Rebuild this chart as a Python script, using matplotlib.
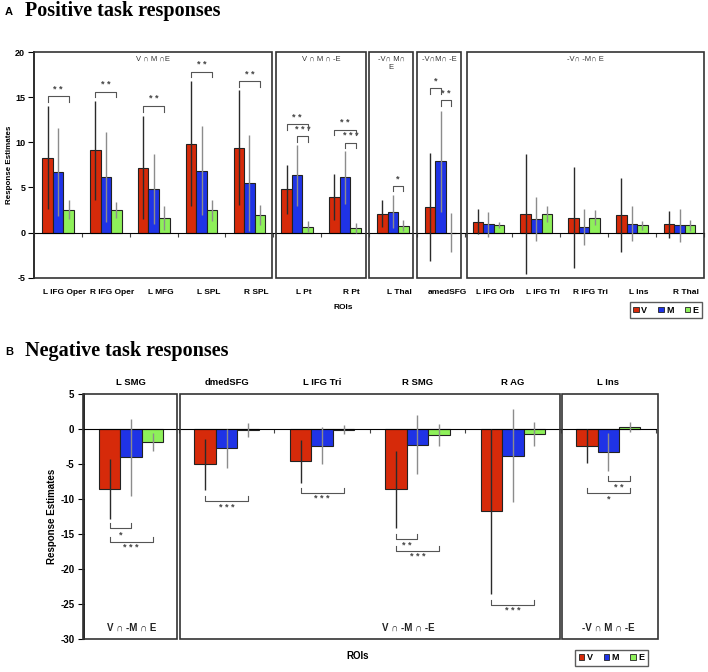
import numpy as np
import matplotlib.pyplot as plt
from matplotlib.patches import Rectangle, Patch

plt.rcParams['font.family'] = ['Liberation Sans', 'DejaVu Sans']
plt.rcParams['axes.unicode_minus'] = False

# ---- panel A: positive task responses ----
roi_a = ['L IFG Oper', 'R IFG Oper', 'L MFG', 'L SPL', 'R SPL', 'L Pt', 'R Pt',
         'L Thal', 'amedSFG', 'L IFG Orb', 'L IFG Tri', 'R IFG Tri', 'L Ins', 'R Thal']
v_a = [8.3, 9.1, 7.2, 9.85, 9.4, 4.8, 3.9, 2.1, 2.8, 1.2, 2.05, 1.65, 1.9, 0.92]
m_a = [6.7, 6.15, 4.8, 6.85, 5.5, 6.35, 6.1, 2.3, 7.9, 0.9, 1.5, 0.6, 1.0, 0.8]
e_a = [2.55, 2.5, 1.6, 2.45, 1.95, 0.65, 0.55, 0.78, 0.0, 0.85, 2.05, 1.65, 0.8, 0.8]
v_err_a = [5.7, 5.5, 5.7, 6.9, 6.4, 2.7, 2.55, 1.5, 6.0, 1.4, 6.6, 5.6, 4.1, 1.5]
m_err_a = [4.9, 5.0, 3.9, 4.95, 5.35, 3.4, 2.9, 1.85, 5.6, 1.35, 2.4, 2.0, 1.95, 1.8]
e_err_a = [1.1, 0.85, 1.3, 1.2, 1.1, 0.6, 0.55, 0.6, 2.2, 0.35, 0.9, 0.8, 0.5, 0.6]
groups_a = ['V \u2229 M \u2229E', 'V \u2229 M \u2229 -E', '-V\u2229 M\u2229\nE',
            '-V\u2229M\u2229 -E', '-V\u2229 -M\u2229 E']
# (roi, from, to, level, stars)
sig_a = [(0, 'V', 'E', 15.1, '**'), (1, 'V', 'E', 15.6, '**'), (2, 'V', 'E', 14.0, '**'),
         (3, 'V', 'E', 17.8, '**'), (4, 'V', 'E', 16.75, '**'),
         (5, 'V', 'E', 12.0, '**'), (5, 'M', 'E', 10.66, '***'),
         (6, 'V', 'E', 11.4, '**'), (6, 'M', 'E', 9.97, '***'),
         (7, 'M', 'E', 5.16, '*'), (8, 'V', 'M', 16.0, '*'), (8, 'M', 'E', 14.65, '**')]

# ---- panel B: negative task responses ----
roi_b = ['L SMG', 'dmedSFG', 'L IFG Tri', 'R SMG', 'R AG', 'L Ins']
v_b = [-8.55, -5.1, -4.65, -8.65, -11.8, -2.5]
m_b = [-4.1, -2.8, -2.4, -2.3, -3.85, -3.3]
e_b = [-1.85, -0.2, -0.15, -0.9, -0.75, 0.25]
v_err_b = [4.3, 3.7, 3.1, 5.45, 11.8, 2.4]
m_err_b = [5.5, 2.8, 2.6, 4.2, 6.65, 2.75]
e_err_b = [1.3, 1.0, 0.65, 1.6, 1.75, 0.75]
groups_b = ['V \u2229 -M \u2229 E', 'V \u2229 -M \u2229 -E', '-V \u2229 M \u2229 -E']
sig_b = [(0, 'V', 'M', -14.2, '*'), (0, 'V', 'E', -16.1, '***'), (1, 'V', 'E', -10.3, '***'),
         (2, 'V', 'E', -9.1, '***'), (3, 'V', 'M', -15.7, '**'), (3, 'V', 'E', -17.4, '***'),
         (4, 'V', 'E', -25.1, '***'), (5, 'M', 'E', -7.45, '**'), (5, 'V', 'E', -9.1, '*')]

series = ['V', 'M', 'E']
cols = ['#d62a0a', '#1f33e6', '#8ef05a']
errc = ['#2a2a2a', '#8c8c8c', '#8c8c8c']

W, H = 708., 672.
fig = plt.figure(figsize=(7.08, 6.72), dpi=100)


def bars(ax, vals, errs, width):
    x = np.arange(len(vals[0]))
    for i in range(3):
        xi = x + (i - 1) * width
        ax.bar(xi, vals[i], width, color=cols[i], edgecolor='#222', linewidth=0.8, zorder=2)
        ax.errorbar(xi, vals[i], yerr=errs[i], fmt='none', ecolor=errc[i],
                    elinewidth=1.0, capsize=0, zorder=3)


def bracket(ax, sig, width, tick, dy, fs):
    for i, a, b, y, st in sig:
        x1 = i + (series.index(a) - 1) * width
        x2 = i + (series.index(b) - 1) * width
        ax.plot([x1, x1, x2, x2], [y - tick, y, y, y - tick], color='#555', lw=0.8, zorder=4)
        ax.text((x1 + x2) / 2, y + dy, ' '.join(st), ha='center', va='center',
                fontsize=fs, fontweight='bold', color='#444')


def setup(ax, n, ylim, step, fs):
    ax.set_xlim(-0.5, n - 0.5)
    ax.set_ylim(*ylim)
    ax.set_yticks(np.arange(ylim[0], ylim[1] + 1, step))
    for s in ['top', 'right']:
        ax.spines[s].set_visible(False)
    ax.spines['bottom'].set_position(('data', 0))
    ax.spines['left'].set_linewidth(1.2)
    ax.set_xticks(np.arange(-0.5, n))
    ax.set_xticklabels([])
    ax.tick_params(axis='x', direction='out', length=3, color='#444')
    ax.tick_params(axis='y', direction='out', length=4, pad=2.5, labelsize=fs)
    for t in ax.get_yticklabels():
        t.set_fontweight('bold')


def legend(anchor):
    h = [Patch(facecolor=c, edgecolor='#222', linewidth=0.6) for c in cols]
    lg = fig.legend(h, series, loc='center', bbox_to_anchor=anchor, ncol=3,
                    handlelength=0.6, handleheight=0.6, handletextpad=0.3, columnspacing=1.2,
                    fancybox=False, edgecolor='#333', borderpad=0.4,
                    prop={'weight': 'bold', 'size': 6.5})
    lg.get_frame().set_linewidth(1.0)


# ================= panel A =================
axA = fig.add_axes([34.2 / W, 1 - 277.7 / H, 669.4 / W, 225.7 / H])
wa = 0.22
bars(axA, [v_a, m_a, e_a], [v_err_a, m_err_a, e_err_a], wa)
setup(axA, len(roi_a), (-5, 20), 5, 6.5)
bracket(axA, sig_a, wa, 0.6, 0.8, 6.5)

boxes_a = [(-0.5, 4.47), (4.56, 6.43), (6.5, 7.43), (7.5, 8.43), (8.55, 13.5)]
for (x0, x1), g in zip(boxes_a, groups_a):
    axA.add_patch(Rectangle((x0, -5), x1 - x0, 25, fill=False, edgecolor='#333',
                            lw=1.2, zorder=5, clip_on=False))
    axA.text((x0 + x1) / 2, 19.6, g, ha='center', va='top', fontsize=5.5,
             color='#333', linespacing=1.3)

for i, r in enumerate(roi_a):
    axA.text(i + 0.14, -6.65, r, ha='center', va='center', fontsize=6,
             fontweight='bold', clip_on=False)

fig.text(343 / W, 1 - 307.7 / H, 'ROIs', ha='center', va='center', fontsize=6, fontweight='bold')
fig.text(10 / W, 1 - 165 / H, 'Response Estimates', rotation=90, ha='center', va='center',
         fontsize=5.8, fontweight='bold')
legend((666 / W, 1 - 310.3 / H))

fig.text(5 / W, 1 - 12 / H, 'A', ha='left', va='center', fontsize=8, fontweight='bold')
fig.text(25 / W, 1 - 11 / H, 'Positive task responses', ha='left', va='center',
         fontsize=14.5, fontweight='bold', family='Liberation Serif')

# ================= panel B =================
axB = fig.add_axes([83.5 / W, 1 - 639 / H, 572.5 / W, 245.3 / H])
wb = 0.225
bars(axB, [v_b, m_b, e_b], [v_err_b, m_err_b, e_err_b], wb)
setup(axB, len(roi_b), (-30, 5), 5, 7)
bracket(axB, sig_b, wb, -0.7, -0.9, 6.5)

boxes_b = [(-0.5, 0.477), (0.516, 4.49), (4.516, 5.52)]
label_x = [0.0, 2.9, 5.0]
for (x0, x1), g, lx in zip(boxes_b, groups_b, label_x):
    axB.add_patch(Rectangle((x0, -30), x1 - x0, 35, fill=False, edgecolor='#333',
                            lw=1.2, zorder=5, clip_on=False))
    axB.text(lx, -28.4, g, ha='center', va='center', fontsize=7, fontweight='bold',
             color='#222')

for i, r in enumerate(roi_b):
    axB.text(i, 6.6, r, ha='center', va='center', fontsize=6.8,
             fontweight='bold', clip_on=False)

fig.text(358 / W, 1 - 655.7 / H, 'ROIs', ha='center', va='center', fontsize=7, fontweight='bold')
fig.text(52 / W, 1 - 516 / H, 'Response Estimates', rotation=90, ha='center', va='center',
         fontsize=7, fontweight='bold')
legend((611.5 / W, 1 - 657.8 / H))

fig.text(5 / W, 1 - 352 / H, 'B', ha='left', va='center', fontsize=8, fontweight='bold')
fig.text(25 / W, 1 - 351 / H, 'Negative task responses', ha='left', va='center',
         fontsize=14.5, fontweight='bold', family='Liberation Serif')

fig.savefig('out.png', dpi=100)
